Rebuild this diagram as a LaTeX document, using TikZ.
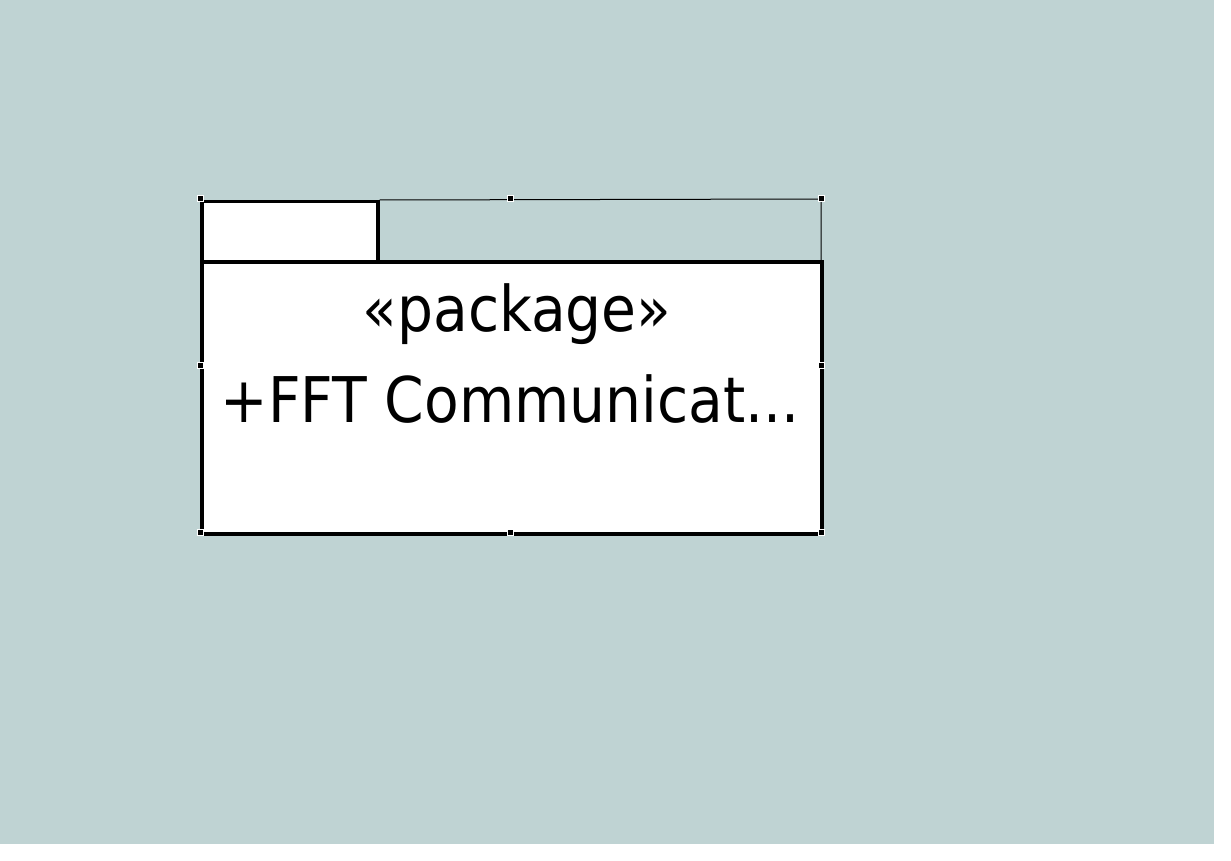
\documentclass[tikz,border=0pt]{standalone}
\usepackage{fontspec}
\setmainfont{DejaVu Sans Condensed}
\usepackage{tikz}
\usetikzlibrary{positioning}
\definecolor{canvas}{RGB}{191,211,211}

\begin{document}
\begin{tikzpicture}[x=1pt, y=-1pt]

\tikzstyle{tabbox}=[draw, fill=white, line width=3.5pt, minimum width=176pt, minimum height=60pt, inner sep=0pt, anchor=north west]
\tikzstyle{bodybox}=[draw, fill=white, line width=3.5pt, minimum width=620pt, minimum height=272pt, inner sep=0pt, anchor=north west]
\tikzstyle{frame}=[draw, line width=1pt]
\tikzstyle{handle}=[draw=white, fill=black, line width=1pt, minimum size=6pt, inner sep=0pt]
\tikzstyle{label}=[anchor=base, inner sep=0pt, font=\fontsize{63}{72}\selectfont]

\useasboundingbox (0,0) rectangle (1231,861);
\fill[white] (0,0) rectangle (1231,861);
\fill[canvas] (0,0) rectangle (1214,844);

\node[tabbox] (tab) at (200,200) {};
\node[bodybox] (body) at (200,260) {};

\coordinate (frame_ne) at (821,199);
\path[frame] (tab.north east) -- (frame_ne) -- (frame_ne |- body.north);

\node[label] (stereotype) at (517,331) {«package»};
\node[label] (name) at (510,422) {+FFT Communicat...};

% selection handles
\foreach \hx/\hy in {200/199, 510/199, 821/199, 200/365, 821/365, 200/532, 510/532, 821/532}
  \node[handle] at (\hx,\hy) {};

\end{tikzpicture}
\end{document}
